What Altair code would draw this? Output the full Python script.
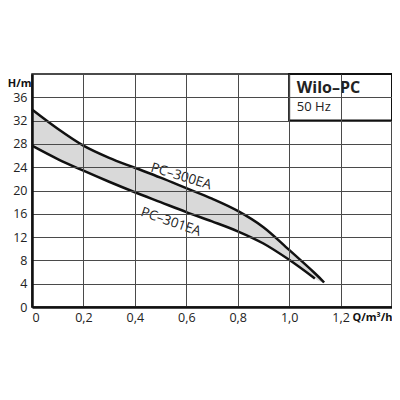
import altair as alt
import pandas as pd

# ---- data ----
q_upper = [0, 0.1, 0.2, 0.3, 0.4, 0.5, 0.6, 0.7, 0.8, 0.9, 1.0, 1.1, 1.136]
h_upper = [33.9, 30.6, 27.7, 25.6, 23.9, 22.2, 20.4, 18.6, 16.5, 13.7, 9.8, 5.8, 4.2]
q_lower = [0, 0.1, 0.2, 0.3, 0.4, 0.5, 0.6, 0.7, 0.8, 0.9, 1.0, 1.1]
h_lower = [27.7, 25.4, 23.4, 21.5, 19.7, 18.0, 16.3, 14.7, 13.0, 10.9, 8.1, 4.9]
series_names = ["PC–300EA", "PC–301EA"]
label_q = [0.58, 0.54]
label_h = [22.4, 14.6]
x_ticks = [0, 0.2, 0.4, 0.6, 0.8, 1.0, 1.2]
y_ticks = [0, 4, 8, 12, 16, 20, 24, 28, 32, 36]
box_q = [1.0, 1.4]
box_h = [32, 40]
box_title = "Wilo–PC"
box_sub = "50 Hz"

FONT = "Open Sans"

upper = pd.DataFrame({"q": q_upper, "h": h_upper, "s": series_names[0]})
lower = pd.DataFrame({"q": q_lower, "h": h_lower, "s": series_names[1]})
curves = pd.concat([upper, lower], ignore_index=True)

poly = pd.concat([
    pd.DataFrame({"q": q_upper, "h": h_upper}),
    pd.DataFrame({"q": q_lower[::-1], "h": h_lower[::-1]}),
], ignore_index=True)
poly["o"] = range(len(poly))

lab_up = pd.DataFrame({"q": [label_q[0]], "h": [label_h[0]], "t": [series_names[0]]})
lab_lo = pd.DataFrame({"q": [label_q[1]], "h": [label_h[1]], "t": [series_names[1]]})
box = pd.DataFrame({"q": [box_q[0]], "q2": [box_q[1]], "h": [box_h[0]], "h2": [box_h[1]]})
title_df = pd.DataFrame({"q": [1.03], "h": [36.8], "t": [box_title]})
sub_df = pd.DataFrame({"q": [1.03], "h": [33.6], "t": [box_sub]})

xs = alt.Scale(domain=[0, 1.4], nice=False, zero=False)
ys = alt.Scale(domain=[0, 40], nice=False, zero=False)

x_axis = alt.Axis(values=x_ticks, grid=True, gridColor="#4a4a4a", gridWidth=1,
                  ticks=False, domainColor="#111", domainWidth=2.5, zindex=1,
                  labelFont=FONT, labelFontSize=12.5, labelColor="#222", labelPadding=4,
                  labelOverlap=False,
                  labelExpr="datum.value == 0 ? '0' : replace(format(datum.value, '.1f'), '.', ',')",
                  title="Q/m³/h", titleFont=FONT, titleFontSize=11, titleFontWeight="bold",
                  titleColor="#111", titleX=360, titleY=13, titleAlign="right",
                  titleBaseline="alphabetic")
y_axis = alt.Axis(values=y_ticks, grid=True, gridColor="#4a4a4a", gridWidth=1,
                  ticks=False, domainColor="#111", domainWidth=2.5, zindex=1,
                  labelFont=FONT, labelFontSize=12.5, labelColor="#222", labelPadding=5,
                  labelOverlap=False,
                  title="H/m", titleFont=FONT, titleFontSize=11, titleFontWeight="bold",
                  titleColor="#111", titleAngle=0, titleX=-1, titleY=12,
                  titleAlign="right", titleBaseline="alphabetic")

X = alt.X("q:Q", scale=xs, axis=x_axis)
Y = alt.Y("h:Q", scale=ys, axis=y_axis)

grid_layer = alt.Chart(curves).mark_point(opacity=0).encode(x=X, y=Y)

fill_layer = alt.Chart(poly).mark_line(fill="#d9d9d9", strokeWidth=0, interpolate="cardinal").encode(
    x=X, y=Y, order="o:Q"
)


def label_layers(df, angle):
    halo = alt.Chart(df).mark_text(font=FONT, fontSize=13.5, angle=angle, stroke="white",
                                   strokeWidth=6, fill="white", align="center",
                                   baseline="middle").encode(x=X, y=Y, text="t:N")
    txt = alt.Chart(df).mark_text(font=FONT, fontSize=13.5, angle=angle, color="#222",
                                  align="center", baseline="middle").encode(x=X, y=Y, text="t:N")
    return halo, txt


halo_up, txt_up = label_layers(lab_up, 17)
halo_lo, txt_lo = label_layers(lab_lo, 19)

lines = alt.Chart(curves).mark_line(color="#111", strokeWidth=2.5, interpolate="cardinal").encode(
    x=X, y=Y, detail="s:N"
)

box_layer = alt.Chart(box).mark_rect(fill="white", stroke="#111", strokeWidth=2).encode(
    x=X, x2="q2:Q", y=Y, y2="h2:Q"
)

title_layer = alt.Chart(title_df).mark_text(font=FONT, fontSize=16, fontWeight="bold", align="left",
                                            baseline="alphabetic", color="#222").encode(
    x=X, y=Y, text="t:N"
)
sub_layer = alt.Chart(sub_df).mark_text(font=FONT, fontSize=13, align="left",
                                        baseline="alphabetic", color="#222").encode(
    x=X, y=Y, text="t:N"
)

chart = alt.layer(grid_layer, fill_layer, halo_up, halo_lo, lines, txt_up, txt_lo, box_layer,
                  title_layer, sub_layer).properties(
    width=360, height=233, autosize="none",
    padding={"left": 24, "top": 66, "right": 0, "bottom": 30},
    background="white",
).configure_view(stroke="#111", strokeWidth=1.5)

chart.save("out.html", embed_options={"renderer": "svg", "actions": False})
